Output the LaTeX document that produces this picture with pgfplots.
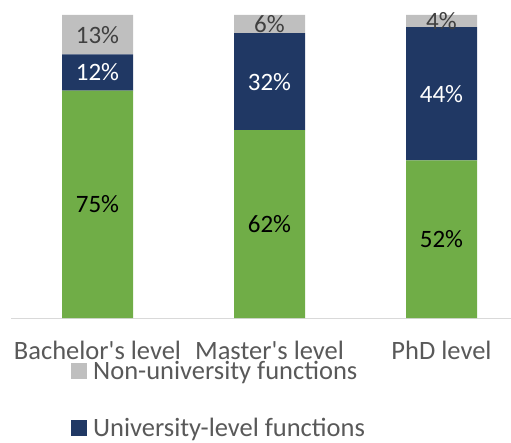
\documentclass[border=0pt]{standalone}
\usepackage{pgfplots}
\pgfplotsset{compat=1.18}
\usepackage{pgfplotstable}
\usepackage{fontspec}
\setmainfont{Carlito}
\definecolor{cgreen}{HTML}{70AD47}
\definecolor{cnavy}{HTML}{203864}
\definecolor{cgray}{HTML}{BFBFBF}
\definecolor{txtgray}{HTML}{595959}
\definecolor{dkgray}{HTML}{404040}
\definecolor{axgray}{HTML}{D9D9D9}

\pgfplotstableread{
x v
0 75
1 62
2 52
}\green
\pgfplotstableread{
x v
0 12
1 32
2 44
}\navy
\pgfplotstableread{
x v
0 13
1 6
2 4
}\grayd

\begin{document}
\begin{tikzpicture}
\begin{axis}[
  at={(11.5pt,124pt)}, anchor=south west,
  scale only axis, width=516pt, height=303pt,
  ybar stacked, bar width=71pt,
  xmin=-0.5, xmax=2.5, ymin=0, ymax=100,
  clip=false,
  hide y axis,
  axis x line*=bottom,
  x axis line style={-, draw=axgray, line width=1pt},
  xtick={0,1,2},
  xticklabels={Bachelor\textquotesingle s level, Master\textquotesingle s level, PhD level},
  xtick style={draw=none},
  xticklabel style={font=\fontsize{26.5}{30}\selectfont, text=txtgray, anchor=base, yshift=-41pt},
  /pgf/number format/assume math mode=true,
  reverse legend,
  legend image code/.code={\fill[#1,draw=none] (0pt,-8pt) rectangle (16pt,8pt);},
  legend style={at={(axis description cs:0.1153,-0.1485)}, anchor=north west, draw=none, fill=none, inner sep=0pt, row sep=41pt,
    nodes={inner sep=0pt, text height=16pt, text depth=0pt, text=txtgray, font=\fontsize{26.5}{30}\selectfont},
    /tikz/every odd column/.append style={column sep=6pt}},
  legend cell align=left,
  lbl/.style={nodes near coords={\pgfmathprintnumber{\pgfplotspointmeta}\%},
    every node near coord/.append style={font=\fontsize{25}{29}\selectfont, anchor=center, text=#1}},
]
\addplot[fill=cgreen, draw=none, forget plot, lbl=black] table[x=x, y=v, meta=v] {\green};
\addplot[fill=cnavy, draw=none, lbl=white] table[x=x, y=v, meta=v] {\navy};
\addlegendentry{University-level functions}
\addplot[fill=cgray, draw=none, lbl=dkgray] table[x=x, y=v, meta=v] {\grayd};
\addlegendentry{Non-university functions}
\end{axis}
\pgfresetboundingbox
\useasboundingbox (0,0) rectangle (511pt,442pt);
\end{tikzpicture}
\end{document}
